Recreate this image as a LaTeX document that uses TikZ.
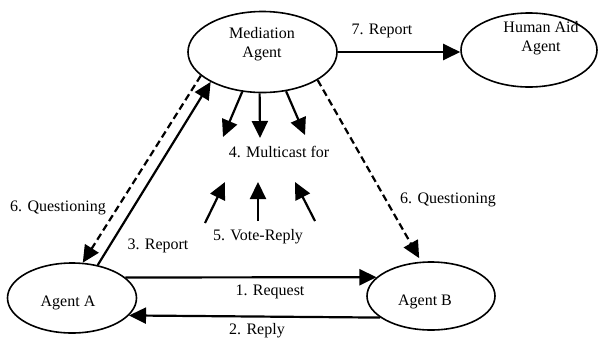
\documentclass[tikz,border=0pt]{standalone}
\usepackage{fontspec}
\setmainfont{Liberation Serif}
\usetikzlibrary{shapes.geometric,arrows.meta}
\begin{document}
\begin{tikzpicture}[x=1pt,y=-1pt,
  every node/.style={font=\fontsize{16}{19}\selectfont},
  agent/.style={draw,ellipse,line width=1.6pt,inner sep=0pt},
  txt/.style={inner sep=0pt,align=center},
  link/.style={line width=2.2pt,-{Triangle[length=17pt,width=16pt]}},
  dlink/.style={link,dash pattern=on 7pt off 4pt}]
\useasboundingbox (0,0) rectangle (604,341);

% agents
\node[agent,minimum width=149pt,minimum height=81pt] (med) at (262.5,52) {};
\node[agent,minimum width=136pt,minimum height=74pt] (hum) at (529,50) {};
\node[agent,minimum width=129pt,minimum height=70pt] (a) at (72,298) {};
\node[agent,minimum width=128pt,minimum height=68pt] (b) at (431,296) {};

\node[txt] (medtxt) at (262,44) {Mediation\\Agent};
\node[txt] (humtxt) at (541,38) {Human Aid\\Agent};
\node[txt] (atxt) at (68,303) {Agent A};
\node[txt] (btxt) at (425,302) {Agent B};

% free ends of the multicast and vote arrows
\coordinate (m1) at (223,137);
\coordinate (m2) at (260,138);
\coordinate (m3) at (305,135);
\coordinate (v1s) at (205,223);
\coordinate (v1e) at (225,182);
\coordinate (v2s) at (258,221);
\coordinate (v2e) at (258,182);
\coordinate (v3s) at (315,221);
\coordinate (v3e) at (295,182);

% connectors
\draw[link] (med.east) -- (med.east -| hum.west);
\draw[link] (a.21) -- (b.161);
\draw[link] (b.203) -- (a.343);
\draw[link] (a.52) -- (med.210);
\draw[dlink] (med.201) -- (a.73);
\draw[dlink,shorten >=4pt] (med.333) -- (b.106);
\draw[link] (med.243) -- (m1);
\draw[link] (med.266) -- (m2);
\draw[link] (med.301) -- (m3);
\draw[link] (v1s) -- (v1e);
\draw[link] (v2s) -- (v2e);
\draw[link] (v3s) -- (v3e);

% labels
\node[txt] (l7) at (382,31) {7. Report};
\node[txt] (l1) at (270,292) {1. Request};
\node[txt] (l2) at (257,331) {2. Reply};
\node[txt] (l3) at (158,246) {3. Report};
\node[txt] (l6a) at (58,208) {6. Questioning};
\node[txt] (l6b) at (448,200) {6. Questioning};
\node[txt] (l4) at (279,152) {4. Multicast for};
\node[txt] (l5) at (258,237) {5. Vote-Reply};
\end{tikzpicture}
\end{document}
